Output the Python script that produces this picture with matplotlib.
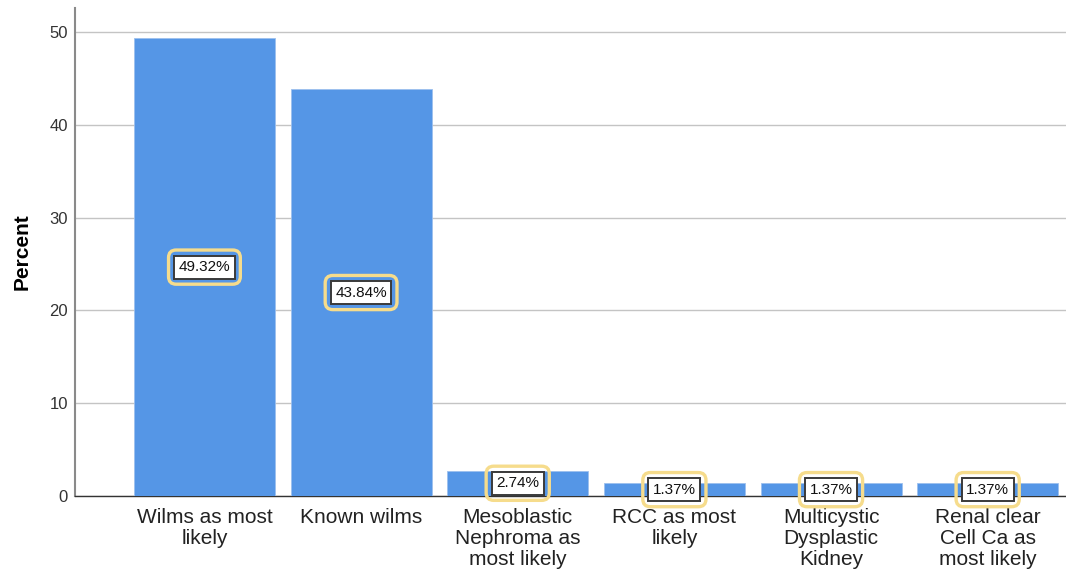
import matplotlib.pyplot as plt

categories = ["Wilms as most\nlikely", "Known wilms", "Mesoblastic\nNephroma as\nmost likely",
              "RCC as most\nlikely", "Multicystic\nDysplastic\nKidney", "Renal clear\nCell Ca as\nmost likely"]
percents = [49.32, 43.84, 2.74, 1.37, 1.37, 1.37]
yticks = [0, 10, 20, 30, 40, 50]

plt.rcParams['font.family'] = ['Liberation Sans', 'DejaVu Sans']

fig = plt.figure(figsize=(10.66, 5.73), dpi=100)
ax = fig.add_axes([0.0704, 0.1344, 0.9296, 0.852])

x = list(range(len(categories)))
ax.bar(x, percents, width=0.9, color='#5596e6', edgecolor='#9cc0ee', linewidth=0.6, zorder=3)

for xi, v in zip(x, percents):
    label = f"{v:.2f}%"
    ax.text(xi, v / 2, label, ha='center', va='center', fontsize=11, color='#111111', zorder=6,
            bbox=dict(boxstyle='square,pad=0.3', fc='white', ec='#3a3a3a', lw=1.4))
    ax.text(xi, v / 2, label, ha='center', va='center', fontsize=11, color='none', zorder=5,
            bbox=dict(boxstyle='round,pad=0.66,rounding_size=0.5', fc='none', ec='#f6dc8c', lw=2.4))

ax.set_xlim(-0.826, 5.5)
ax.set_ylim(0, 52.6)
ax.set_yticks(yticks)
ax.set_xticks(x)
ax.set_xticklabels(categories, fontsize=15, color='#222222', linespacing=1.12)
ax.tick_params(axis='x', length=0, pad=9)
ax.tick_params(axis='y', length=0, pad=5, labelsize=12, labelcolor='#333333')
ax.set_ylabel('Percent', fontsize=15, fontweight='bold', labelpad=13)

ax.yaxis.grid(True, color='#c4c4c4', linewidth=1.0, zorder=0)
ax.set_axisbelow(True)
for side in ['top', 'right']:
    ax.spines[side].set_visible(False)
ax.spines['left'].set_color('#8a8a8a')
ax.spines['left'].set_linewidth(1.5)
ax.spines['bottom'].set_color('#333333')
ax.spines['bottom'].set_linewidth(1.0)

fig.savefig('out.png', dpi=100)
